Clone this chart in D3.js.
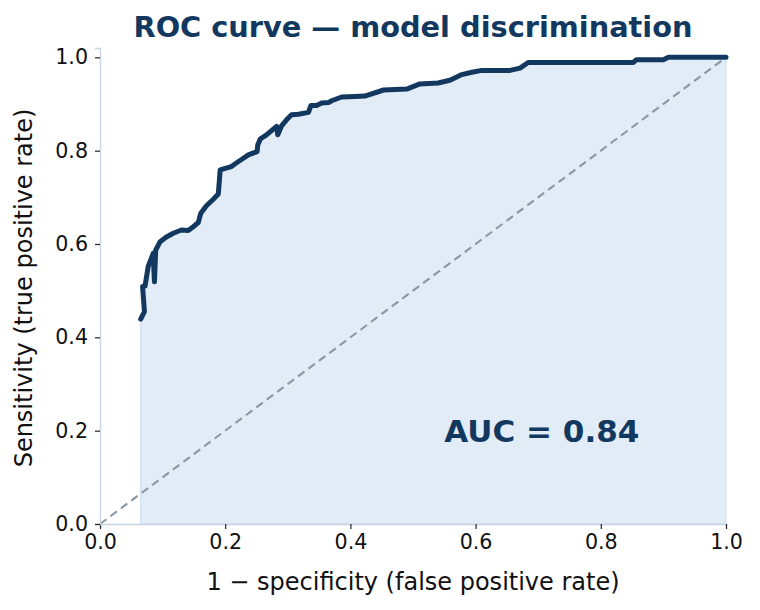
<!DOCTYPE html>
<html>
<head>
<meta charset="utf-8">
<script src="https://cdn.jsdelivr.net/npm/d3@7"></script>
<style>
  html, body { margin: 0; padding: 0; background: #ffffff; }
  svg { display: block; }
</style>
</head>
<body>
<svg id="chart" width="760" height="610"></svg>
<script>
// ROC curve points
const fpr = [0.065, 0.071, 0.068, 0.072, 0.077, 0.085, 0.087, 0.089, 0.096, 0.106, 0.117, 0.130, 0.141, 0.149, 0.157, 0.161, 0.170, 0.181, 0.189, 0.192, 0.200, 0.210, 0.216, 0.226, 0.237, 0.251, 0.252, 0.256, 0.266, 0.274, 0.282, 0.284, 0.290, 0.298, 0.306, 0.317, 0.333, 0.337, 0.346, 0.354, 0.365, 0.370, 0.386, 0.407, 0.423, 0.453, 0.490, 0.511, 0.540, 0.559, 0.578, 0.594, 0.610, 0.655, 0.671, 0.684, 0.852, 0.857, 0.900, 0.908, 1.000];
const tpr = [0.439, 0.455, 0.509, 0.510, 0.552, 0.580, 0.519, 0.587, 0.605, 0.615, 0.623, 0.630, 0.629, 0.637, 0.646, 0.666, 0.682, 0.696, 0.707, 0.759, 0.762, 0.766, 0.772, 0.781, 0.791, 0.798, 0.812, 0.825, 0.834, 0.843, 0.852, 0.834, 0.853, 0.866, 0.877, 0.878, 0.882, 0.897, 0.897, 0.902, 0.903, 0.907, 0.915, 0.916, 0.917, 0.930, 0.932, 0.943, 0.945, 0.951, 0.963, 0.968, 0.972, 0.972, 0.977, 0.989, 0.989, 0.995, 0.995, 1.000, 1.000];
const xTicks = [0.0, 0.2, 0.4, 0.6, 0.8, 1.0];
const yTicks = [0.0, 0.2, 0.4, 0.6, 0.8, 1.0];
const chanceLine = [0, 1];
const aucValue = 0.84;
const titleText = "ROC curve \u2014 model discrimination";
const xLabel = "1 \u2212 specificity (false positive rate)";
const yLabel = "Sensitivity (true positive rate)";

const navy = "#12385f";
const margin = { left: 100, right: 34, top: 48, bottom: 86 };
const W = 760, H = 610;
const svg = d3.select("#chart");
const x = d3.scaleLinear().domain([0, 1]).range([margin.left, W - margin.right]);
const y = d3.scaleLinear().domain([0, 1.02]).range([H - margin.bottom, margin.top]);

const pts = fpr.map((f, i) => [f, tpr[i]]);

// fill under curve
const area = d3.area().x(d => x(d[0])).y0(y(0)).y1(d => y(d[1]));
svg.append("path").datum(pts)
  .attr("d", area)
  .attr("fill", "#e1ecf6")
  .attr("stroke", "#ccdcec")
  .attr("stroke-width", 1);

// chance diagonal
svg.append("path").datum(chanceLine.map(v => [v, v]))
  .attr("d", d3.line().x(d => x(d[0])).y(d => y(d[1])))
  .attr("fill", "none")
  .attr("stroke", "#8a97a5")
  .attr("stroke-width", 2.1)
  .attr("stroke-dasharray", "8,5");

// ROC curve
svg.append("path").datum(pts)
  .attr("d", d3.line().x(d => x(d[0])).y(d => y(d[1])))
  .attr("fill", "none")
  .attr("stroke", navy)
  .attr("stroke-width", 5)
  .attr("stroke-linejoin", "round")
  .attr("stroke-linecap", "round");

// axes
const font = "'DejaVu Sans', sans-serif";
const xAxis = svg.append("g").attr("transform", `translate(0,${y(0)})`)
  .call(d3.axisBottom(x).tickValues(xTicks).tickFormat(d3.format(".1f")).tickSizeOuter(0).tickSize(5).tickPadding(5));
const yAxis = svg.append("g").attr("transform", `translate(${x(0)},0)`)
  .call(d3.axisLeft(y).tickValues(yTicks).tickFormat(d3.format(".1f")).tickSizeOuter(0).tickSize(5).tickPadding(7));
[xAxis, yAxis].forEach(g => {
  g.select(".domain").attr("stroke", "#c6d3e0").attr("stroke-width", 1.3);
  g.selectAll(".tick line").attr("stroke", "#222").attr("stroke-width", 1.2);
  g.selectAll(".tick text").attr("fill", "#111").style("font-family", font).style("font-size", "20.6px");
});

// title
svg.append("text").attr("x", (x(0) + x(1)) / 2).attr("y", 37)
  .attr("text-anchor", "middle").attr("fill", navy)
  .style("font-family", font).style("font-weight", "bold").style("font-size", "28.8px")
  .text(titleText);

// axis labels
svg.append("text").attr("x", (x(0) + x(1)) / 2).attr("y", 590)
  .attr("text-anchor", "middle").attr("fill", "#111")
  .style("font-family", font).style("font-size", "24px")
  .text(xLabel);
svg.append("text")
  .attr("transform", `translate(32,288) rotate(-90)`)
  .attr("text-anchor", "middle").attr("fill", "#111")
  .style("font-family", font).style("font-size", "24px")
  .text(yLabel);

// AUC annotation
svg.append("text").attr("x", x(0.55)).attr("y", y(0.2))
  .attr("dy", "0.36em").attr("text-anchor", "start").attr("fill", navy)
  .style("font-family", font).style("font-weight", "bold").style("font-size", "31px")
  .text("AUC = " + aucValue.toFixed(2));
</script>
</body>
</html>
